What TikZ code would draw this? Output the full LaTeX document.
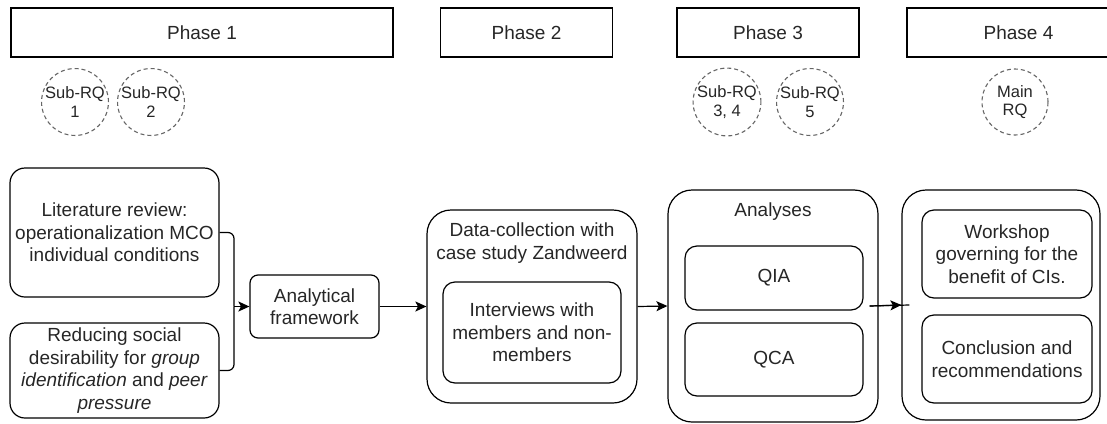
\documentclass[tikz,border=0pt]{standalone}
\usepackage{fontspec}
\setmainfont{Liberation Sans}
\usetikzlibrary{arrows.meta,positioning,calc}
\tikzset{
  PhaseBox/.style={draw, line width=1.2pt, minimum height=49, inner sep=0pt},
  RqCirc/.style={draw=black!60, circle, dash pattern=on 4pt off 3pt, line width=1.1pt,
                 minimum size=66, inner sep=0pt, align=center, font=\fontsize{16.5}{18.5}\selectfont},
  Wbox/.style={draw, line width=1.2pt, rounded corners=15, align=center, inner sep=0pt},
  Obox/.style={draw, line width=1.2pt, rounded corners=24, inner sep=0pt},
  Ibox/.style={draw, line width=1.2pt, rounded corners=12, align=center, inner sep=0pt},
  Ttl/.style={anchor=north, align=center, inner sep=0pt},
  Narr/.style={-{Stealth[length=11pt, width=10pt, inset=2.5pt]}, line width=1.2pt}
}

\begin{document}
\begin{tikzpicture}[x=1pt, y=-1pt, every node/.style={text=black!85, font=\fontsize{19}{22.5}\selectfont}]
  \useasboundingbox (0,0) rectangle (1107,423);

  % phases
  \node[PhaseBox, minimum width=382] (p1) at (202,32.5) {Phase 1};
  \node[PhaseBox, minimum width=172] (p2) at (526.5,32.5) {Phase 2};
  \node[PhaseBox, minimum width=182] (p3) at (768,32.5) {Phase 3};
  \node[PhaseBox, minimum width=223] (p4) at (1018.5,32.5) {Phase 4};

  % research questions
  \node[RqCirc] (rq1) at (75,102) {Sub-RQ\\1};
  \node[RqCirc] (rq2) at (151,102) {Sub-RQ\\2};
  \node[RqCirc] (rq34) at (727,102) {Sub-RQ\\3, 4};
  \node[RqCirc] (rq5) at (810,102) {Sub-RQ\\5};
  \node[RqCirc] (rqm) at (1015,102) {Main\\RQ};

  % phase 1
  \node[Wbox, minimum width=209, minimum height=129] (lit) at (114.5,232.5)
    {Literature review:\\operationalization MCO\\individual conditions};
  \node[Wbox, minimum width=209, minimum height=95] (red) at (114.5,370.5)
    {Reducing social\\desirability for \textit{group}\\\textit{identification} and \textit{peer}\\\textit{pressure}};
  \node[Wbox, rounded corners=8, minimum width=129, minimum height=63] (ana) at (314.5,306.5)
    {Analytical\\framework};

  % phase 2
  \node[Obox, minimum width=210, minimum height=193] (dc) at (532,306.5) {};
  \node[Ttl] (dcT) at (532,223) {Data-collection with\\case study Zandweerd};
  \node[Ibox, minimum width=178, minimum height=101] (int) at (532,332.5)
    {Interviews with\\members and non-\\members};

  % phase 3
  \node[Obox, minimum width=210, minimum height=232] (anl) at (773,306) {};
  \node[Ttl] (anlT) at (773,203) {Analyses};
  \node[Ibox, minimum width=178, minimum height=64] (qia) at (774,278) {QIA};
  \node[Ibox, minimum width=178, minimum height=73] (qca) at (774,359.5) {QCA};

  % phase 4
  \node[Obox, minimum width=198, minimum height=230] (fin) at (1001,305) {};
  \node[Ibox, minimum width=170, minimum height=88] (ws) at (1007,254)
    {Workshop\\governing for the\\benefit of CIs.};
  \node[Ibox, minimum width=170, minimum height=88] (con) at (1007,359)
    {Conclusion and\\recommendations};

  % connectors
  \coordinate (jn) at (234,306.5);
  \draw[line width=1.2pt, rounded corners=6] (lit.east) -| (jn);
  \draw[line width=1.2pt, rounded corners=6] (red.east) -| (jn);
  \draw[Narr] (jn) -- (ana.west);
  \draw[Narr] (ana.east) -- (dc.west);
  \draw[Narr] (dc.east) -- (anl.west);
  \draw[line width=1.2pt] ([xshift=-9pt]anl.east) -- ([xshift=8pt]fin.west);
  \draw[Narr] ([xshift=-9pt]anl.east) -- (fin.west);
\end{tikzpicture}
\end{document}
